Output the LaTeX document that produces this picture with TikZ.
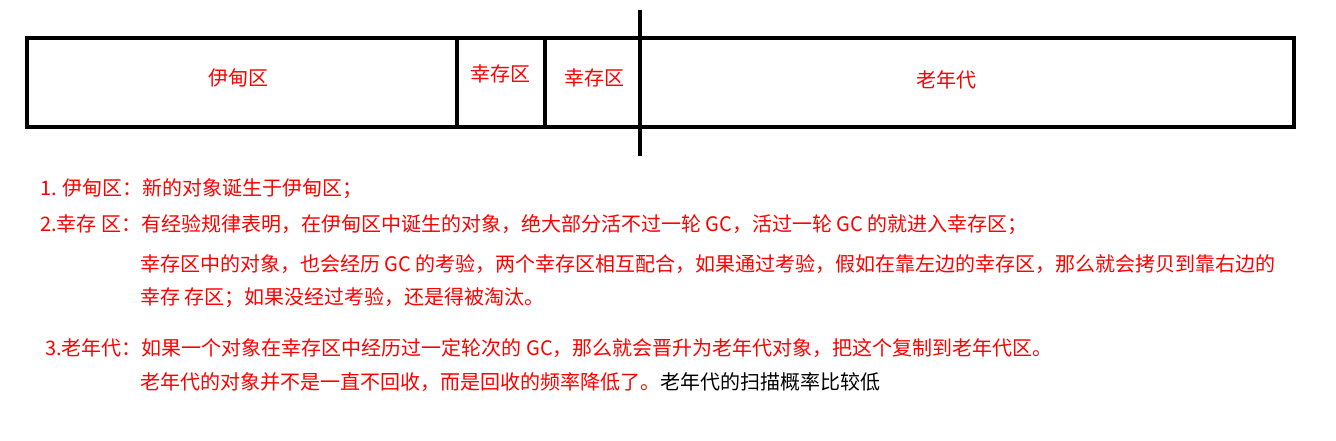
\documentclass[tikz,border=0pt]{standalone}
\usepackage{fontspec}
\setmainfont{Noto Sans CJK SC}
\tikzset{lbl/.style={text=red,font=\fontsize{20}{24}\selectfont,inner sep=0pt},
 ln/.style={lbl,anchor=west},
 bx/.style={line width=4pt}}
\begin{document}
\begin{tikzpicture}[x=1pt,y=-1pt]
\useasboundingbox (0,0) rectangle (1336,440);
\draw[bx] (27,38) rectangle (1294,127);
\draw[bx] (457,38) -- (457,127);
\draw[bx] (545,38) -- (545,127);
\draw[bx] (640,10) -- (640,156);
\node[lbl] (e) at (238,78) {伊甸区};
\node[lbl] (s1) at (500,74) {幸存区};
\node[lbl] (s2) at (594,78) {幸存区};
\node[lbl] (o) at (946,80) {老年代};
\node[ln] (l1) at (40,189) {1. 伊甸区：新的对象诞生于伊甸区；};
\node[ln] (l2) at (40,225) {2.幸存 区：有经验规律表明，在伊甸区中诞生的对象，绝大部分活不过一轮 GC，活过一轮 GC 的就进入幸存区；};
\node[ln] (l3) at (140,264) {幸存区中的对象，也会经历 GC 的考验，两个幸存区相互配合，如果通过考验，假如在靠左边的幸存区，那么就会拷贝到靠右边的};
\node[ln] (l4) at (140,298) {幸存 存区；如果没经过考验，还是得被淘汰。};
\node[ln] (l5) at (45,348) {3.老年代：如果一个对象在幸存区中经历过一定轮次的 GC，那么就会晋升为老年代对象，把这个复制到老年代区。};
\node[ln] (l6) at (140,382) {老年代的对象并不是一直不回收，而是回收的频率降低了。\textcolor{black}{老年代的扫描概率比较低}};
\end{tikzpicture}
\end{document}
